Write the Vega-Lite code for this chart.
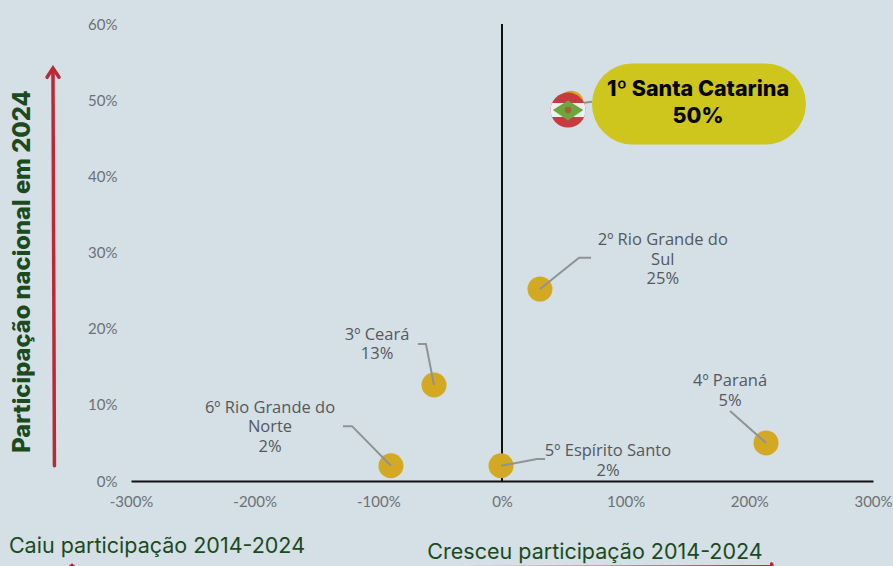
{
"$schema":"https://vega.github.io/schema/vega-lite/v6.json",
"width":742,"height":457,
"autosize":{"type":"none"},
"padding":{"left":131,"top":24,"right":20,"bottom":85},
"background":"#d4dfe6",
"config":{"view":{"stroke":null}},
"datasets":{
"flag":[{"uf":"Santa Catarina","x":53.4,"y":48.7}],
"points":[{"uf":"Santa Catarina","x":56,"y":49.6},{"uf":"Rio Grande do Sul","x":30.7,"y":25.2},{"uf":"Ceará","x":-55,"y":12.6},{"uf":"Paraná","x":213.5,"y":5},{"uf":"Espírito Santo","x":-0.8,"y":2},{"uf":"Rio Grande do Norte","x":-89.8,"y":2}],
"leaders":[
{"id":"SC","s":1,"x":53,"y":49.4},{"id":"SC","s":2,"x":72.8,"y":49.8},
{"id":"RS","s":1,"x":30.7,"y":25.2},{"id":"RS","s":2,"x":62.3,"y":29.3},{"id":"RS","s":3,"x":72,"y":29.3},
{"id":"CE","s":1,"x":-55,"y":12.6},{"id":"CE","s":2,"x":-61.5,"y":18},{"id":"CE","s":3,"x":-68,"y":18},
{"id":"RN","s":1,"x":-89.8,"y":2},{"id":"RN","s":2,"x":-121.3,"y":7.2},{"id":"RN","s":3,"x":-128.6,"y":7.2},
{"id":"PR","s":1,"x":213.5,"y":5},{"id":"PR","s":2,"x":184.4,"y":9.2},
{"id":"ES","s":1,"x":-0.8,"y":2},{"id":"ES","s":2,"x":28.3,"y":2.9},{"id":"ES","s":3,"x":34.8,"y":2.9}],
"labels":[
{"t":"2º Rio Grande do\nSul\n25%","x":130,"y":31.6},
{"t":"3º Ceará\n13%","x":-101,"y":19.2},
{"t":"6º Rio Grande do\nNorte\n2%","x":-187.6,"y":9.6},
{"t":"4º Paraná\n5%","x":184.4,"y":13.1},
{"t":"5º Espírito Santo\n2%","x":85.7,"y":3.9}],
"redArrows":[
{"id":"v","s":1,"x":-361.9,"y":2},{"id":"v","s":2,"x":-363.1,"y":54},
{"id":"vh","s":1,"x":-367.9,"y":53},{"id":"vh","s":2,"x":-363.1,"y":54.2},{"id":"vh","s":3,"x":-358.2,"y":53},
{"id":"lh","s":1,"x":-351,"y":-11.5},{"id":"lh","s":2,"x":-347.7,"y":-11.1},{"id":"lh","s":3,"x":-344.5,"y":-11.5},
{"id":"rh","s":1,"x":218,"y":-10.9},{"id":"rh","s":2,"x":218.5,"y":-11.2},{"id":"rh","s":3,"x":214,"y":-11.5}]
},
"encoding":{
"x":{"field":"x","type":"quantitative","scale":{"domain":[-300,300],"nice":false},
"axis":{"title":null,"values":[-300,-200,-100,0,100,200,300],"labelExpr":"datum.value + '%'","grid":false,"ticks":false,"domain":true,"domainColor":"#111111","domainWidth":2,"labelFont":"Lato","labelFontSize":15,"labelColor":"#6d7174","labelPadding":13,"labelFlush":false,"labelOverlap":false}},
"y":{"field":"y","type":"quantitative","scale":{"domain":[0,60],"nice":false},
"axis":{"title":"Participação nacional em 2024","titleFont":"Inter","titleFontSize":23.7,"titleFontWeight":800,"titleColor":"#1b4a1c","titleX":-97,"titleY":247,"titleAnchor":"middle","titleAlign":"center","values":[0,10,20,30,40,50,60],"labelExpr":"datum.value + '%'","grid":false,"ticks":false,"domain":false,"labelFont":"Lato","labelFontSize":15,"labelColor":"#6d7174","labelPadding":14}}
},
"layer":[
{"data":{"values":[{"x":0,"y":0,"y2":60}]},"mark":{"type":"rule","color":"#111111","strokeWidth":2},"encoding":{"y2":{"field":"y2"}}},
{"data":{"name":"points"},"mark":{"type":"circle","color":"#d3a923","size":625,"opacity":1}},
{"data":{"name":"leaders"},"mark":{"type":"line","color":"#8d9396","strokeWidth":2},"encoding":{"detail":{"field":"id"},"order":{"field":"s"}}},
{"data":{"name":"flag"},"mark":{"type":"circle","color":"#c63a40","size":1225,"opacity":1}},
{"data":{"name":"flag"},"mark":{"type":"point","shape":"M-0.92,-0.4 A1,1 0 0 0 -0.92,0.4 L0.92,0.4 A1,1 0 0 0 0.92,-0.4 Z","filled":true,"color":"#eef0ee","opacity":1,"size":1225}},
{"data":{"name":"flag"},"mark":{"type":"point","shape":"M-0.87,0 L0,-0.55 L0.87,0 L0,0.6 Z","filled":true,"color":"#6ea53f","opacity":1,"size":1225}},
{"data":{"name":"flag"},"mark":{"type":"circle","color":"#a3652f","size":45,"opacity":1}},
{"data":{"values":[{"x":105.5,"x2":213,"y":49.5}]},"mark":{"type":"rule","color":"#cec51d","strokeWidth":81,"strokeCap":"round"},"encoding":{"x2":{"field":"x2"}}},
{"data":{"values":[{"t":"1º Santa Catarina\n50%","x":158.5,"y":51.4}]},"mark":{"type":"text","font":"Inter","fontWeight":800,"fontSize":21.5,"color":"#050505","lineBreak":"\n","lineHeight":27,"align":"center","baseline":"middle"},"encoding":{"text":{"field":"t"}}},
{"data":{"name":"labels"},"mark":{"type":"text","font":"Open Sans","fontSize":16.5,"color":"#55595c","lineBreak":"\n","lineHeight":19.5,"align":"center","baseline":"middle"},"encoding":{"text":{"field":"t"}}},
{"data":{"values":[{"t":"Caiu participação 2014-2024","x":-279,"y":-8.6},{"t":"Cresceu participação 2014-2024","x":75.2,"y":-9.4}]},"mark":{"type":"text","font":"Inter","fontSize":21.5,"color":"#1b4a1c","align":"center","baseline":"middle"},"encoding":{"text":{"field":"t"}}},
{"data":{"name":"redArrows"},"mark":{"type":"line","color":"#b82a38","strokeWidth":3.5,"strokeCap":"round","strokeJoin":"miter"},"encoding":{"detail":{"field":"id"},"order":{"field":"s"}}},
{"data":{"values":[{"s":1,"x":-38,"y":-11.2},{"s":2,"x":218,"y":-11.15}]},"mark":{"type":"line","strokeWidth":2,"stroke":{"gradient":"linear","x1":0,"x2":1,"y1":0,"y2":0,"stops":[{"offset":0,"color":"#d4dfe6"},{"offset":1,"color":"#b82a38"}]}},"encoding":{"order":{"field":"s"}}}
]
}
